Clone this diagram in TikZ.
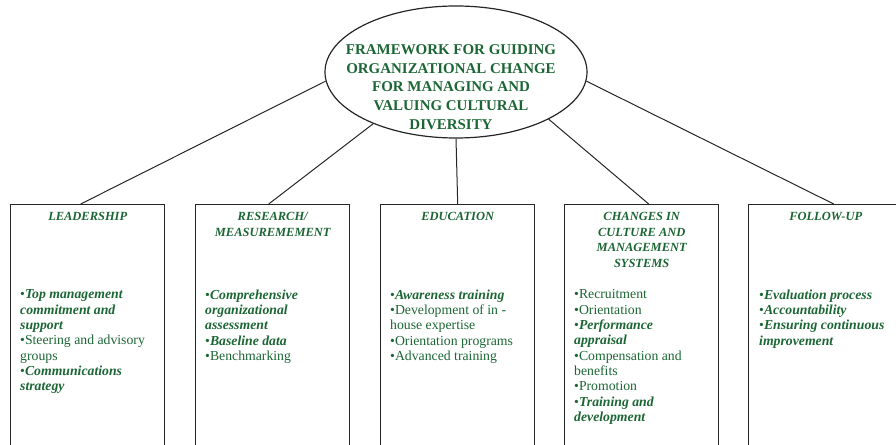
\documentclass[tikz,border=0pt]{standalone}
\usepackage{fontspec}
\setmainfont{Liberation Serif}
\usetikzlibrary{shapes.geometric,calc}
\definecolor{txtgreen}{HTML}{1B6634}
\newcommand\bitx[1]{\textbf{\textit{#1}}}
\begin{document}
\begin{tikzpicture}[x=1bp,y=-1bp,
  boxn/.style={draw=black!85,line width=1.4bp,rectangle,minimum width=154bp,minimum height=270bp,anchor=north west,inner sep=0},
  ttl/.style={anchor=north,align=center,inner sep=0,text=txtgreen,font=\fontsize{12.5}{15.5}\selectfont\bfseries\itshape},
  body/.style={anchor=north west,align=left,inner sep=0,text=txtgreen,font=\fontsize{13.8}{15.4}\selectfont},
  conn/.style={draw=black!85,line width=1bp}]
\clip (0,0) rectangle (896,445);
\useasboundingbox (0,0) rectangle (896,445);

\node[draw=black!85, ellipse, minimum width=262bp, minimum height=132bp, inner sep=0, line width=1.2bp] (ell) at (456,72) {};
\node[anchor=north,align=center,inner sep=0,text=txtgreen,font=\fontsize{15}{18.75}\selectfont\bfseries] (main) at (451,44.5)
 {FRAMEWORK FOR GUIDING\\ORGANIZATIONAL CHANGE\\FOR MANAGING AND\\VALUING CULTURAL\\DIVERSITY};

\node[boxn] (b1) at (10,204) {};
\node[boxn] (b2) at (195,204) {};
\node[boxn] (b3) at (380,204) {};
\node[boxn] (b4) at (564,204) {};
\node[boxn] (b5) at (748,204) {};

\node[ttl] (t1) at ([yshift=-8.5bp]b1.north) {LEADERSHIP};
\node[ttl] (t2) at ([yshift=-8.5bp]b2.north) {RESEARCH/\\MEASUREMEMENT};
\node[ttl] (t3) at ([yshift=-8.5bp]b3.north) {EDUCATION};
\node[ttl] (t4) at ([yshift=-8.5bp]b4.north) {CHANGES IN\\CULTURE AND\\MANAGEMENT\\SYSTEMS};
\node[ttl] (t5) at ([yshift=-8.5bp]b5.north) {FOLLOW-UP};

\node[body] (l1) at (20,289.5) {\textbullet\bitx{Top management}\\\bitx{commitment and}\\\bitx{support}\\\textbullet Steering and advisory\\groups\\\textbullet\bitx{Communications}\\\bitx{strategy}};
\node[body] (l2) at (205,289.5) {\textbullet\bitx{Comprehensive}\\\bitx{organizational}\\\bitx{assessment}\\\textbullet\bitx{Baseline data}\\\textbullet Benchmarking};
\node[body] (l3) at (390,289.5) {\textbullet\bitx{Awareness training}\\\textbullet Development of in -\\house expertise\\\textbullet Orientation programs\\\textbullet Advanced training};
\node[body] (l4) at (574,289.5) {\textbullet Recruitment\\\textbullet Orientation\\\textbullet\bitx{Performance}\\\bitx{appraisal}\\\textbullet Compensation and\\benefits\\\textbullet Promotion\\\textbullet\bitx{Training and}\\\bitx{development}};
\node[body] (l5) at (759,289.5) {\textbullet\bitx{Evaluation process}\\\textbullet\bitx{Accountability}\\\textbullet\bitx{Ensuring continuous}\\\bitx{improvement}};

\draw[conn] (ell.184.8) -- ([xshift=-7bp]b1.north);
\draw[conn] (ell.212) -- ([xshift=-4bp]b2.north);
\draw[conn] (ell.270) -- (b3.north);
\draw[conn] (ell.333) -- ([xshift=7bp]b4.north);
\draw[conn] (ell.356) -- ([xshift=8bp]b5.north);
\end{tikzpicture}
\end{document}
